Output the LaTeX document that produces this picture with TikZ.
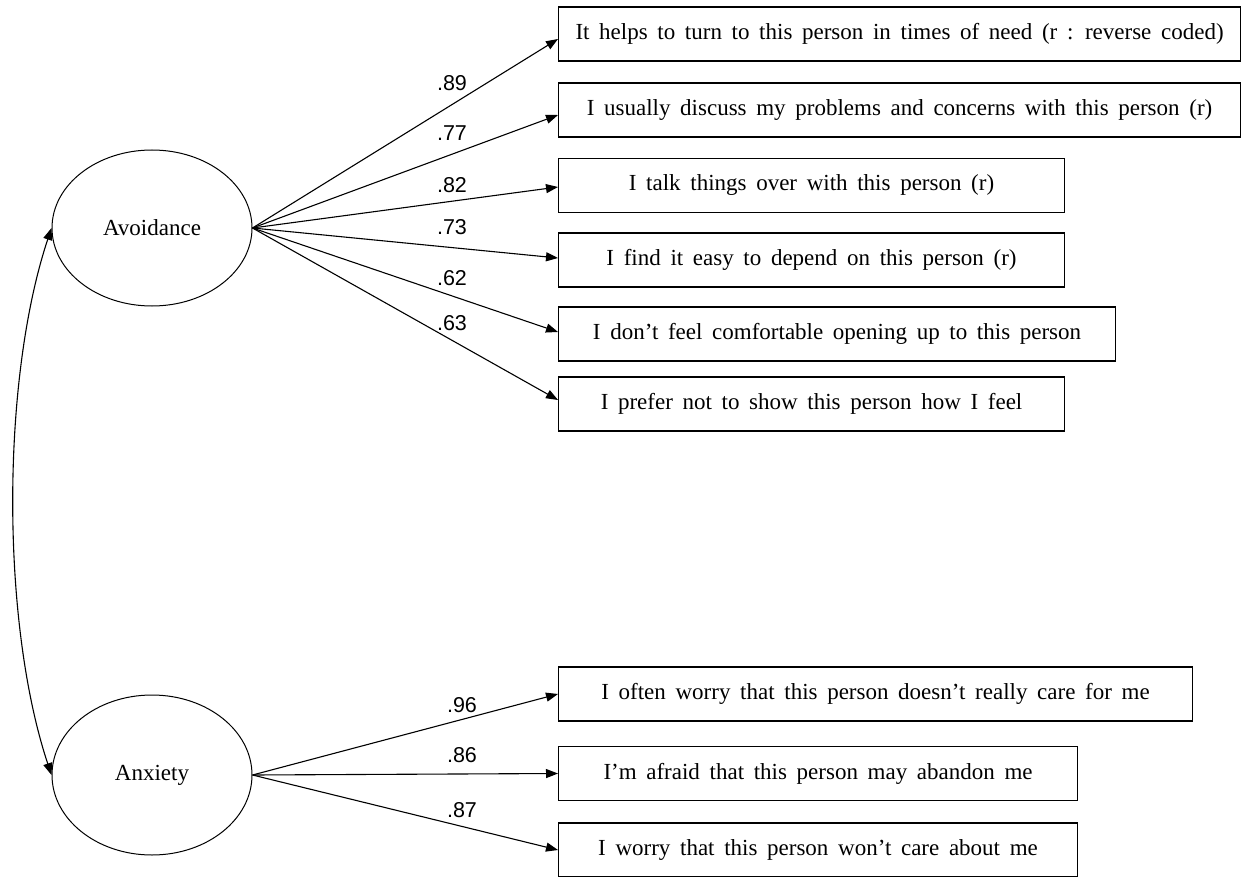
\documentclass[tikz,border=0pt]{standalone}
\usepackage{fontspec}
\setmainfont{Liberation Serif}
\newfontfamily\lblfont{Liberation Sans}
\usetikzlibrary{shapes.geometric,arrows.meta}

\newcommand\itemtextfont{\fontsize{23}{27}\selectfont\spaceskip=0.42em\relax}
\newcommand\loadtextfont{\lblfont\fontsize{21.5}{24}\selectfont}

\tikzset{
  latent/.style={draw, ellipse, line width=1pt, minimum width=200pt, minimum height=156pt,
    inner sep=0pt, font=\fontsize{23}{27}\selectfont},
  item/.style={draw, rectangle, line width=1.1pt, anchor=west, minimum height=54pt,
    inner sep=0pt, font=\itemtextfont},
  load/.style={font=\loadtextfont, inner sep=0pt},
  ldarrow/.style={line width=1.1pt, -{Triangle[length=12pt,width=9pt]}},
  covarrow/.style={line width=1.1pt, {Triangle[length=12pt,width=9pt]}-{Triangle[length=12pt,width=9pt]}}
}

\begin{document}
\begin{tikzpicture}[x=1pt,y=-1pt]
  \useasboundingbox (0,0) rectangle (1241,877);

  % latent factors
  \node[latent] (avd) at (152,228) {Avoidance};
  \node[latent, minimum height=160pt] (anx) at (152,775) {Anxiety};

  % avoidance indicators
  \node[item, minimum width=682pt] (b1) at (558,34)  {It helps to turn to this person in times of need (r : reverse coded)};
  \node[item, minimum width=682pt] (b2) at (558,110) {I usually discuss my problems and concerns with this person (r)};
  \node[item, minimum width=506pt] (b3) at (558,185.5) {I talk things over with this person (r)};
  \node[item, minimum width=506pt] (b4) at (558,260) {I find it easy to depend on this person (r)};
  \node[item, minimum width=557pt] (b5) at (558,334) {I don’t feel comfortable opening up to this person};
  \node[item, minimum width=506pt] (b6) at (558,404) {I prefer not to show this person how I feel};

  % anxiety indicators
  \node[item, minimum width=634pt] (b7) at (558,694) {I often worry that this person doesn’t really care for me};
  \node[item, minimum width=519pt] (b8) at (558,773.5) {I’m afraid that this person may abandon me};
  \node[item, minimum width=519pt] (b9) at (558,850) {I worry that this person won’t care about me};

  % loadings
  \draw[ldarrow] (avd.east) -- ([yshift=-5pt]b1.west);
  \draw[ldarrow] (avd.east) -- ([yshift=-5pt]b2.west);
  \draw[ldarrow] (avd.east) -- ([yshift=-1.5pt]b3.west);
  \draw[ldarrow] (avd.east) -- ([yshift=2pt]b4.west);
  \draw[ldarrow] (avd.east) -- ([yshift=2pt]b5.west);
  \draw[ldarrow] (avd.east) -- ([yshift=4pt]b6.west);

  \draw[ldarrow] (anx.east) -- (b7.west);
  \draw[ldarrow] (anx.east) -- (b8.west);
  \draw[ldarrow] (anx.east) -- (b9.west);

  % factor covariance
  \draw[covarrow] (avd.west) .. controls (1,380) and (1,623) .. (anx.west);

  % loading values
  \node[load] (l1) at (452,83)  {.89};
  \node[load] (l2) at (452,133) {.77};
  \node[load] (l3) at (452,185) {.82};
  \node[load] (l4) at (452,227) {.73};
  \node[load] (l5) at (452,278) {.62};
  \node[load] (l6) at (452,323) {.63};
  \node[load] (l7) at (462,705) {.96};
  \node[load] (l8) at (462,755) {.86};
  \node[load] (l9) at (462,810) {.87};
\end{tikzpicture}
\end{document}
